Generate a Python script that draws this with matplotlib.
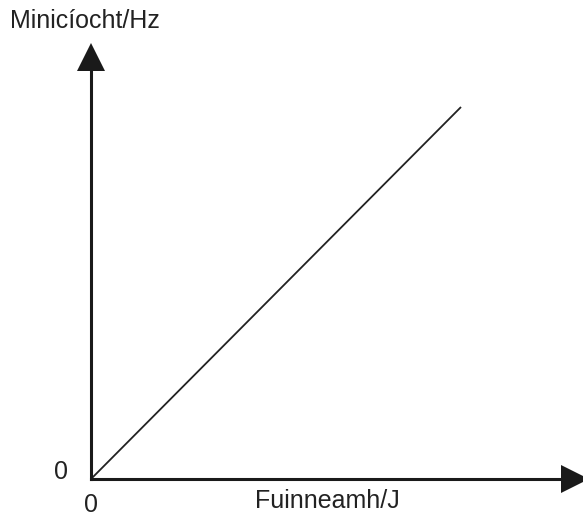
import matplotlib
matplotlib.use("Agg")
import matplotlib.pyplot as plt

# straight line through the origin: frequency vs energy (arbitrary units)
energy = [0, 1]
frequency = [0, 1]

W, H = 583, 517

fig = plt.figure(figsize=(W / 100, H / 100), dpi=100)
# axes origin sits at pixel (91, 479), reaching to the right/top edges
ox, oy = 91, 479
ax = fig.add_axes([ox / W, (H - oy) / H, (W - ox) / W, oy / H])
ax.set_xlim(0, (W - ox) / 370)
ax.set_ylim(0, oy / 372)
ax.axis("off")

# the data line
ax.plot(energy, frequency, color="#222222", lw=1.3, solid_capstyle="butt")

# axes with arrowheads
xmax = (575 - ox) / 370
ymax = (oy - 57) / 372
ax.plot([0, xmax], [0, 0], color="#1a1a1a", lw=2.2, clip_on=False, solid_capstyle="projecting")
ax.plot([0, 0], [0, ymax], color="#1a1a1a", lw=2.2, clip_on=False, solid_capstyle="projecting")
ax.plot([xmax], [0], marker=">", ms=19.5, color="#1a1a1a", mew=0, clip_on=False)
ax.plot([0], [ymax], marker="^", ms=19.5, color="#1a1a1a", mew=0, clip_on=False)

font = dict(family=["Liberation Sans", "DejaVu Sans"], size=18, color="#222222")

fig.text(10 / W, 1 - 28 / H, "Minicíocht/Hz", ha="left", va="baseline", **font)
fig.text(255 / W, 1 - 508 / H, "Fuinneamh/J", ha="left", va="baseline", **font)
fig.text(61 / W, 1 - 472 / H, "0", ha="center", va="center", **font)
fig.text(91 / W, 1 - 505 / H, "0", ha="center", va="center", **font)

fig.savefig("out.png", dpi=100, facecolor="white")
